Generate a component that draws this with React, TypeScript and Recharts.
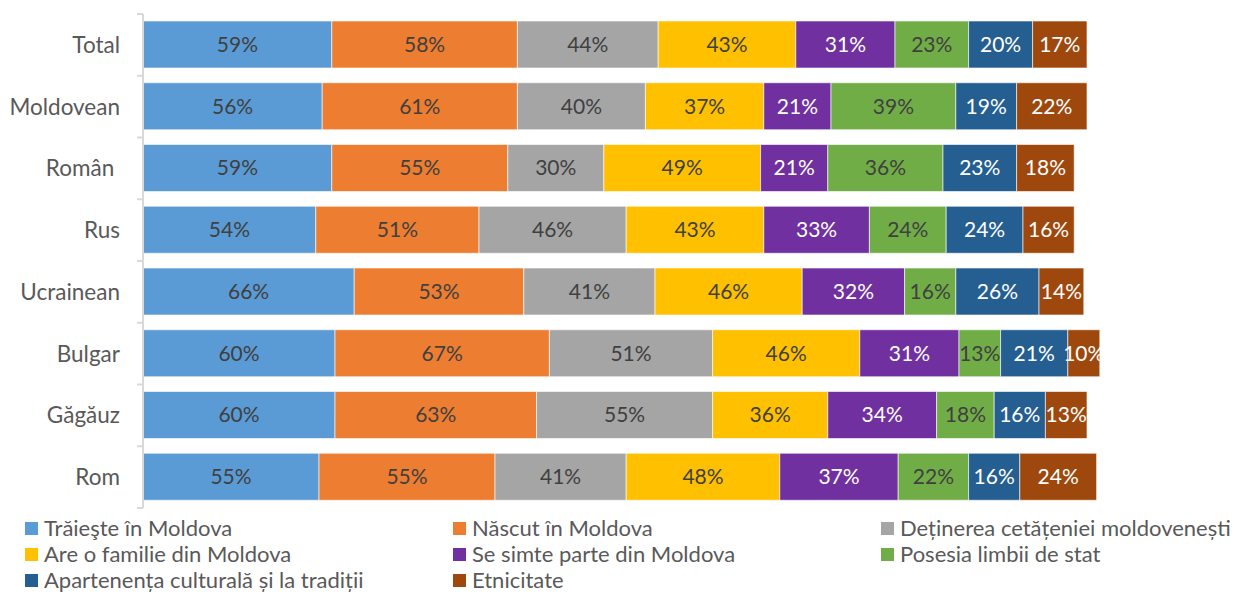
import React from "react";
import { BarChart, Bar, XAxis, YAxis, LabelList } from "recharts";

const categories = ["Total", "Moldovean", "Român\u00A0", "Rus", "Ucrainean", "Bulgar", "Găgăuz", "Rom"];

const seriesNames = [
  "Trăieşte în Moldova",
  "Născut în Moldova",
  "Deținerea cetățeniei moldovenești",
  "Are o familie din Moldova",
  "Se simte parte din Moldova",
  "Posesia limbii de stat",
  "Apartenența culturală și la tradiții",
  "Etnicitate",
];

const traieste = [59, 56, 59, 54, 66, 60, 60, 55];
const nascut = [58, 61, 55, 51, 53, 67, 63, 55];
const detinerea = [44, 40, 30, 46, 41, 51, 55, 41];
const familie = [43, 37, 49, 43, 46, 46, 36, 48];
const simte = [31, 21, 21, 33, 32, 31, 34, 37];
const limba = [23, 39, 36, 24, 16, 13, 18, 22];
const cultura = [20, 19, 23, 24, 26, 21, 16, 16];
const etnicitate = [17, 22, 18, 16, 14, 10, 13, 24];

const seriesValues = [traieste, nascut, detinerea, familie, simte, limba, cultura, etnicitate];

const colors = ["#5B9BD5", "#ED7D31", "#A5A5A5", "#FFC000", "#7030A0", "#70AD47", "#255E91", "#9E480E"];
const labelColors = ["#404040", "#404040", "#404040", "#404040", "#ffffff", "#404040", "#ffffff", "#ffffff"];

const data = categories.map((name, i) => {
  const row: Record<string, string | number> = { name };
  seriesValues.forEach((vals, s) => {
    row["s" + s] = vals[i];
  });
  return row;
});

const FONT = "Lato, 'Open Sans', sans-serif";
const BAND = 494 / categories.length;

const CategoryTick = (props: any) => {
  const { y, payload, index } = props;
  const top = y - BAND / 2;
  return (
    <g>
      <line x1={137} x2={143} y1={top} y2={top} stroke="#d9d9d9" strokeWidth={2} />
      {index === categories.length - 1 && (
        <line x1={137} x2={143} y1={top + BAND} y2={top + BAND} stroke="#d9d9d9" strokeWidth={2} />
      )}
      <text x={120} y={y} dy={8} textAnchor="end" fill="#595959" fontSize={22.5} fontFamily={FONT} xmlSpace="preserve">
        {payload.value}
      </text>
    </g>
  );
};

const App: React.FC = () => {
  return (
    <div
      style={{
        position: "absolute",
        left: 0,
        top: 0,
        width: 1240,
        height: 592,
        background: "#fff",
        fontFamily: FONT,
      }}
    >
      <BarChart
        width={1240}
        height={592}
        data={data}
        layout="vertical"
        margin={{ top: 14, right: 9, bottom: 84, left: 0 }}
        barSize={47}
      >
        <XAxis type="number" domain={[0, 340]} hide />
        <YAxis
          type="category"
          dataKey="name"
          width={143}
          axisLine={{ stroke: "#d9d9d9", strokeWidth: 2 }}
          tickLine={false}
          tick={<CategoryTick />}
          interval={0}
        />
        {seriesNames.map((n, s) => (
          <Bar
            key={n}
            dataKey={"s" + s}
            name={n}
            stackId="a"
            fill={colors[s]}
            stroke="#ffffff"
            strokeOpacity={0.6}
            strokeWidth={1}
            isAnimationActive={false}
          >
            <LabelList
              dataKey={"s" + s}
              position="center"
              formatter={(v: any) => `${v}%`}
              fill={labelColors[s]}
              fontSize={21}
              fontFamily={FONT}
            />
          </Bar>
        ))}
      </BarChart>
      <div
        style={{
          position: "absolute",
          left: 25,
          top: 515,
          display: "grid",
          gridTemplateColumns: "428px 428px 360px",
          gridAutoRows: "26px",
          color: "#595959",
          fontSize: 22,
          lineHeight: "22px",
        }}
      >
        {seriesNames.map((n, s) => (
          <div key={n} style={{ display: "flex", alignItems: "center", whiteSpace: "nowrap" }}>
            <span style={{ width: 13, height: 13, background: colors[s], marginRight: 6, display: "inline-block" }} />
            <span>{n}</span>
          </div>
        ))}
      </div>
    </div>
  );
};

export default App;
